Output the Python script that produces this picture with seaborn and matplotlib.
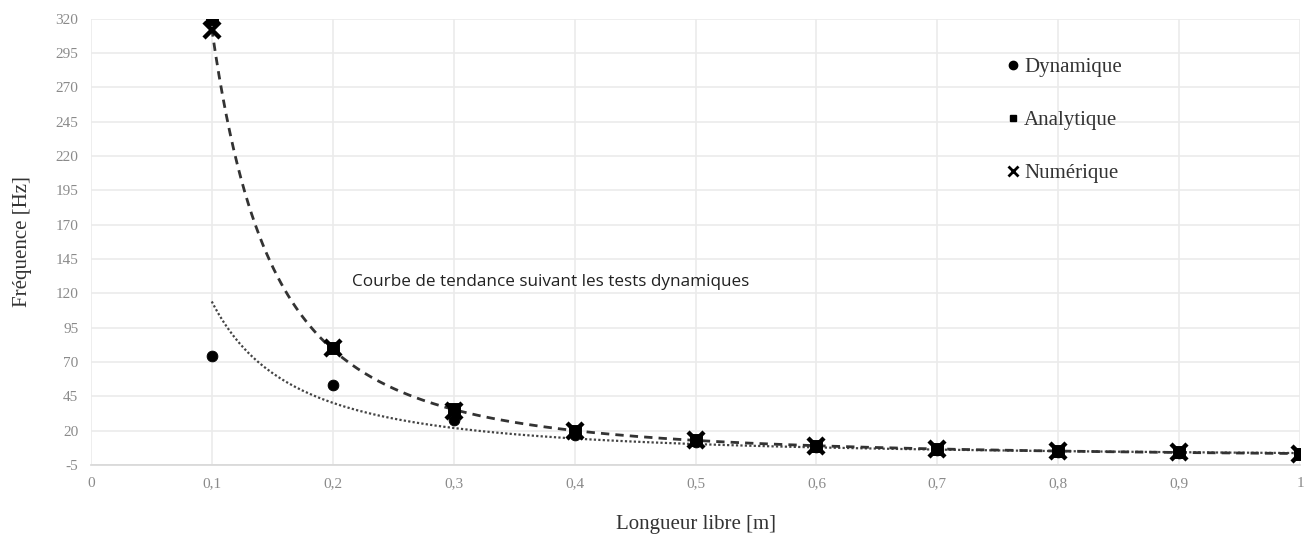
import numpy as np
import pandas as pd
import matplotlib
matplotlib.use("Agg")
import matplotlib.pyplot as plt
import seaborn as sns
from matplotlib.lines import Line2D

# ---- data ----
longueur = [0.1, 0.2, 0.3, 0.4, 0.5, 0.6, 0.7, 0.8, 0.9, 1.0]
dynamique = [74, 53, 28, 17, 12, 8, 6, 4.5, 3.5, 3]
analytique = [320, 80, 35.5, 20, 12.8, 8.9, 6.5, 5, 4, 3.2]
numerique = [312, 80, 34.5, 20, 13, 9, 6.6, 5, 4, 3.2]

x_ticks = [0, 0.1, 0.2, 0.3, 0.4, 0.5, 0.6, 0.7, 0.8, 0.9, 1.0]
x_tick_labels = ["0", "0,1", "0,2", "0,3", "0,4", "0,5", "0,6", "0,7", "0,8", "0,9", "1"]
y_ticks = [-5, 20, 45, 70, 95, 120, 145, 170, 195, 220, 245, 270, 295, 320]

sns.set_theme(style="whitegrid")
plt.rcParams['font.family'] = ['Liberation Serif', 'DejaVu Serif']
plt.rcParams['axes.unicode_minus'] = False

fig = plt.figure(figsize=(13.16, 5.38), dpi=100)
ax = fig.add_axes([0.069, 0.136, 0.919, 0.829])

df = pd.DataFrame({"L": longueur, "dyn": dynamique, "ana": analytique, "num": numerique})

# power-law trend lines (Excel-like "courbe de tendance puissance"), fitted from data
def power_fit(xs, ys):
    b, lna = np.polyfit(np.log(xs), np.log(ys), 1)
    xx = np.linspace(min(xs), max(xs), 300)
    return xx, np.exp(lna) * xx ** b

xd, yd = power_fit(df["L"], df["dyn"])
xn, yn = power_fit(df["L"], df["num"])
sns.lineplot(x=xd, y=yd, ax=ax, color="#444444", lw=1.6, linestyle=(0, (1, 1)), zorder=3)
sns.lineplot(x=xn, y=yn, ax=ax, color="#333333", lw=2.0, linestyle=(0, (3, 2.2)), zorder=3)

sns.scatterplot(data=df, x="L", y="dyn", ax=ax, marker="o", s=60, color="black",
                edgecolor="black", zorder=4)
sns.scatterplot(data=df, x="L", y="ana", ax=ax, marker="s", s=70, color="black",
                edgecolor="black", zorder=4)
ax.plot(df["L"], df["num"], linestyle="none", marker="x", markersize=11,
        markeredgewidth=3.2, color="black", zorder=5)

ax.set_xlim(0, 1.0)
ax.set_ylim(-5, 320)
ax.set_xticks(x_ticks)
ax.set_xticklabels(x_tick_labels)
ax.set_yticks(y_ticks)
ax.tick_params(axis="both", labelsize=11, colors="#8a8a8a", length=0, pad=9)
ax.grid(True, color="#ebebeb", lw=1.2)
for s in ["top", "right", "left"]:
    ax.spines[s].set_visible(False)
ax.spines["bottom"].set_color("#d8d8d8")

ax.set_xlabel("Longueur libre [m]", fontsize=15, color="#333333", labelpad=18)
ax.set_ylabel("Fréquence [Hz]", fontsize=15, color="#333333", labelpad=17)

ax.text(0.216, 128, "Courbe de tendance suivant les tests dynamiques",
        family=["Open Sans", "DejaVu Sans"], fontsize=12.3, color="#222222",
        va="center", ha="left")

handles = [
    Line2D([], [], linestyle="none", marker="o", markersize=6, color="black"),
    Line2D([], [], linestyle="none", marker="s", markersize=5, color="black"),
    Line2D([], [], linestyle="none", marker="x", markersize=7, markeredgewidth=2, color="black"),
]
leg = ax.legend(handles, ["Dynamique", "Analytique", "Numérique"], loc="upper left",
                bbox_to_anchor=(0.738, 0.955), frameon=False, fontsize=15,
                labelspacing=1.6, handletextpad=0.05, handlelength=1.0)
for t in leg.get_texts():
    t.set_color("#333333")

fig.savefig("out.png", dpi=100)
